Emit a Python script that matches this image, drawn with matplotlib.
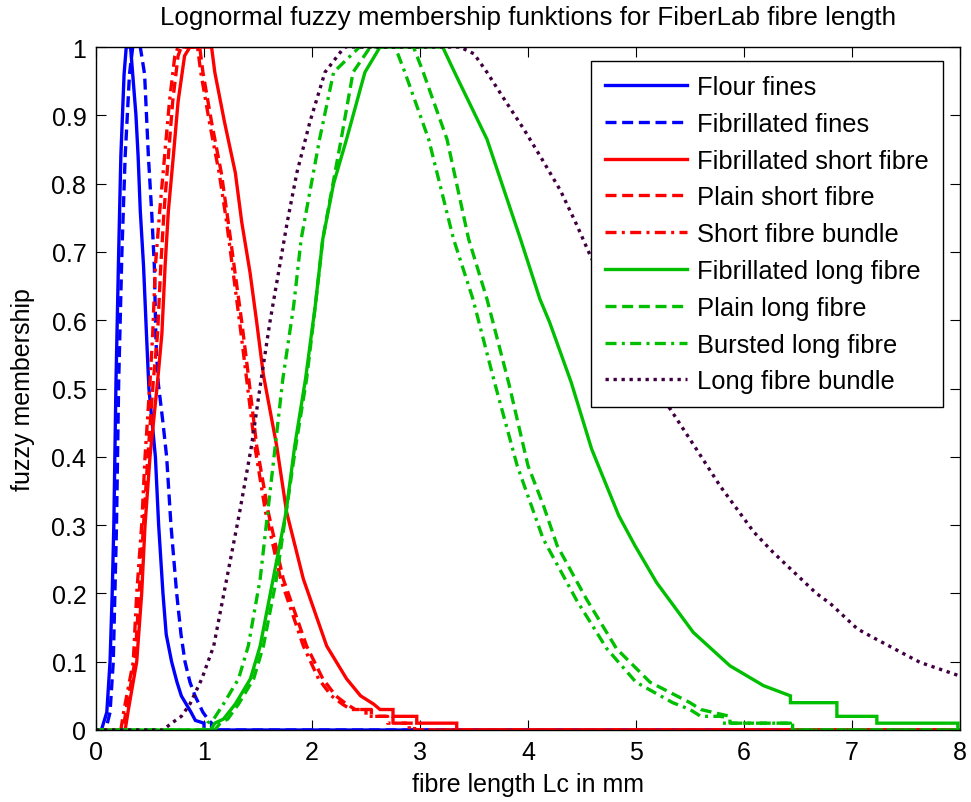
import matplotlib
matplotlib.use("Agg")
import matplotlib.pyplot as plt

plt.rcParams['font.family'] = ['Liberation Sans', 'DejaVu Sans']

# ---------------- data ----------------
flour_x = [0, 0.05, 0.10, 0.13, 0.15, 0.165, 0.185, 0.21, 0.23, 0.26, 0.28, 0.32, 0.34, 0.37, 0.39,
           0.41, 0.44, 0.47, 0.49, 0.52, 0.55, 0.58, 0.62, 0.65, 0.70, 0.75, 0.79, 0.88, 0.92, 1.0, 1.0, 8.0]
flour_y = [0, 0, 0.026, 0.10, 0.20, 0.30, 0.51, 0.70, 0.84, 0.96, 1.0, 1.0, 0.96, 0.90, 0.84,
           0.76, 0.68, 0.57, 0.50, 0.45, 0.40, 0.30, 0.20, 0.14, 0.10, 0.07, 0.05, 0.026, 0.014, 0.01, 0, 0]

fibfines_x = [0, 0.09, 0.13, 0.16, 0.19, 0.21, 0.24, 0.27, 0.31, 0.34, 0.41, 0.45, 0.485, 0.515, 0.54,
              0.555, 0.575, 0.62, 0.654, 0.694, 0.747, 0.787, 0.824, 0.87, 0.917, 0.99, 1.04, 1.07, 1.07, 8.0]
fibfines_y = [0, 0, 0.026, 0.10, 0.30, 0.51, 0.70, 0.84, 0.96, 1.0, 1.0, 0.96, 0.84, 0.76, 0.68,
              0.57, 0.51, 0.45, 0.40, 0.30, 0.20, 0.14, 0.10, 0.07, 0.05, 0.026, 0.015, 0.01, 0, 0]

fibshort_x = [0, 0.27, 0.30, 0.377, 0.423, 0.454, 0.50, 0.57, 0.61, 0.64, 0.67, 0.716, 0.76, 0.82, 0.87,
              1.07, 1.10, 1.19, 1.29, 1.35, 1.426, 1.488, 1.55, 1.673, 1.765, 1.92, 2.136, 2.32, 2.45,
              2.57, 2.63, 2.75, 2.75, 2.97, 2.97, 3.34, 3.34, 8.0]
fibshort_y = [0, 0, 0.03, 0.10, 0.20, 0.30, 0.40, 0.51, 0.58, 0.68, 0.76, 0.84, 0.92, 0.987, 1.0,
              1.0, 0.963, 0.89, 0.816, 0.743, 0.67, 0.597, 0.52, 0.416, 0.319, 0.221, 0.123, 0.075, 0.05,
              0.038, 0.03, 0.03, 0.02, 0.02, 0.01, 0.01, 0, 0]

plainshort_x = [0, 0.25, 0.28, 0.36, 0.40, 0.44, 0.48, 0.53, 0.57, 0.60, 0.63, 0.67, 0.71, 0.76, 0.79,
                0.96, 0.99, 1.07, 1.16, 1.225, 1.287, 1.35, 1.41, 1.488, 1.595, 1.734, 1.95, 2.10, 2.22,
                2.32, 2.40, 2.55, 2.55, 2.75, 2.75, 2.95, 2.95, 8.0]
plainshort_y = [0, 0, 0.03, 0.10, 0.20, 0.30, 0.40, 0.51, 0.58, 0.68, 0.76, 0.84, 0.92, 0.987, 1.0,
                1.0, 0.963, 0.89, 0.816, 0.743, 0.67, 0.597, 0.52, 0.416, 0.319, 0.221, 0.123, 0.075, 0.05,
                0.038, 0.03, 0.03, 0.02, 0.02, 0.01, 0.01, 0, 0]

shortbundle_x = [0, 0.23, 0.26, 0.345, 0.377, 0.423, 0.454, 0.50, 0.525, 0.55, 0.59, 0.635, 0.68, 0.73, 0.76,
                 0.94, 0.97, 1.05, 1.14, 1.21, 1.27, 1.33, 1.39, 1.47, 1.57, 1.71, 1.92, 2.06, 2.18,
                 2.28, 2.36, 2.50, 2.50, 2.70, 2.70, 2.90, 2.90, 8.0]
shortbundle_y = [0, 0, 0.03, 0.10, 0.20, 0.30, 0.40, 0.51, 0.58, 0.68, 0.76, 0.84, 0.92, 0.987, 1.0,
                 1.0, 0.963, 0.89, 0.816, 0.743, 0.67, 0.597, 0.52, 0.416, 0.319, 0.221, 0.123, 0.075, 0.05,
                 0.038, 0.03, 0.03, 0.02, 0.02, 0.01, 0.01, 0, 0]

fiblong_x = [0, 1.06, 1.10, 1.18, 1.29, 1.43, 1.52, 1.64, 1.76, 1.84, 1.94, 2.03, 2.10, 2.20, 2.32, 2.49, 2.63,
             3.21, 3.32, 3.62, 3.93, 4.11, 4.20, 4.40, 4.59, 4.84, 4.99, 5.19, 5.53, 5.87, 6.18, 6.43, 6.43,
             6.86, 6.86, 7.23, 7.23, 7.98, 7.98]
fiblong_y = [0, 0, 0.01, 0.016, 0.038, 0.075, 0.123, 0.221, 0.319, 0.416, 0.514, 0.621, 0.719, 0.80, 0.865, 0.963, 1.0,
             1.0, 0.963, 0.865, 0.719, 0.631, 0.597, 0.509, 0.411, 0.314, 0.27, 0.216, 0.143, 0.094, 0.065, 0.05, 0.04,
             0.04, 0.02, 0.02, 0.01, 0.01, 0]

plainlong_x = [0, 1.10, 1.15, 1.22, 1.32, 1.46, 1.55, 1.67, 1.76, 1.85, 1.95, 2.03, 2.10, 2.27, 2.38, 2.54,
               2.94, 3.03, 3.25, 3.45, 3.62, 3.82, 4.00, 4.14, 4.27, 4.54, 4.82, 5.13, 5.50, 5.60, 5.87, 5.87,
               6.45, 6.45, 8.0]
plainlong_y = [0, 0, 0.01, 0.016, 0.038, 0.075, 0.123, 0.221, 0.319, 0.416, 0.514, 0.62, 0.719, 0.865, 0.963, 1.0,
               1.0, 0.963, 0.865, 0.719, 0.631, 0.509, 0.387, 0.33, 0.27, 0.192, 0.119, 0.07, 0.04, 0.03, 0.02, 0.01,
               0.01, 0, 0]

burstlong_x = [0, 0.99, 1.03, 1.09, 1.18, 1.32, 1.41, 1.52, 1.59, 1.66, 1.73, 1.83, 1.90, 2.07, 2.20, 2.44,
               2.77, 2.86, 3.08, 3.31, 3.49, 3.69, 3.90, 4.14, 4.45, 4.73, 5.00, 5.34, 5.50, 5.60, 5.80, 5.80,
               6.43, 6.43, 8.0]
burstlong_y = [0, 0, 0.01, 0.016, 0.038, 0.075, 0.123, 0.221, 0.319, 0.416, 0.514, 0.621, 0.719, 0.865, 0.963, 1.0,
               1.0, 0.963, 0.865, 0.719, 0.631, 0.509, 0.387, 0.28, 0.19, 0.119, 0.07, 0.04, 0.03, 0.02, 0.02, 0.01,
               0.01, 0, 0]

longbundle_x = [0, 0.62, 0.70, 0.79, 0.87, 0.98, 1.09, 1.21, 1.33, 1.44, 1.53, 1.61, 1.69, 1.77, 1.86, 1.98, 2.12, 2.30,
                3.37, 3.50, 3.62, 3.77, 3.96, 4.11, 4.30, 4.45, 4.57, 4.80, 5.05, 5.30, 5.42, 5.56, 5.78, 6.09,
                6.27, 6.67, 6.80, 7.05, 7.20, 7.57, 7.63, 8.0]
longbundle_y = [0, 0, 0.01, 0.02, 0.038, 0.075, 0.123, 0.221, 0.319, 0.416, 0.514, 0.597, 0.67, 0.743, 0.816, 0.89, 0.963, 1.0,
                1.0, 0.99, 0.963, 0.926, 0.88, 0.841, 0.79, 0.74, 0.697, 0.62, 0.545, 0.474, 0.445, 0.411, 0.357, 0.29,
                0.26, 0.20, 0.185, 0.148, 0.135, 0.104, 0.099, 0.079]

labels = ["Flour fines", "Fibrillated fines", "Fibrillated short fibre", "Plain short fibre",
          "Short fibre bundle", "Fibrillated long fibre", "Plain long fibre", "Bursted long fibre",
          "Long fibre bundle"]

x_ticks = [0, 1, 2, 3, 4, 5, 6, 7, 8]
y_ticks = [0, 0.1, 0.2, 0.3, 0.4, 0.5, 0.6, 0.7, 0.8, 0.9, 1.0]
y_tick_labels = ["0", "0.1", "0.2", "0.3", "0.4", "0.5", "0.6", "0.7", "0.8", "0.9", "1"]

# ---------------- styling ----------------
BLUE = '#0000ff'
RED = '#ff0000'
GREEN = '#00bf00'
PURPLE = '#400040'
SOLID = '-'
DASH = (0, (3.3, 1.7))
DASHDOT = (0, (3.3, 1.6, 0.9, 1.6))
DOT = (0, (1, 1.4))
LW = 2.4

series = [
    (flour_x, flour_y, BLUE, SOLID),
    (fibfines_x, fibfines_y, BLUE, DASH),
    (fibshort_x, fibshort_y, RED, SOLID),
    (plainshort_x, plainshort_y, RED, DASH),
    (shortbundle_x, shortbundle_y, RED, DASHDOT),
    (fiblong_x, fiblong_y, GREEN, SOLID),
    (plainlong_x, plainlong_y, GREEN, DASH),
    (burstlong_x, burstlong_y, GREEN, DASHDOT),
    (longbundle_x, longbundle_y, PURPLE, DOT),
]

FS = 18.4
fig = plt.figure(figsize=(9.71, 8.03), dpi=100)
W, H = 971, 803
ax = fig.add_axes([96 / W, (H - 731) / H, (960 - 96) / W, (731 - 48) / H])

for (xs, ys, c, ls), lab in zip(series, labels):
    ax.plot(xs, ys, color=c, linestyle=ls, linewidth=LW, label=lab,
            dash_capstyle='butt', solid_joinstyle='miter')

ax.set_xlim(0, 8)
ax.set_ylim(0, 1)
ax.set_xticks(x_ticks)
ax.set_xticklabels([str(t) for t in x_ticks])
ax.set_yticks(y_ticks)
ax.set_yticklabels(y_tick_labels)
ax.tick_params(direction='in', length=7, width=0.8, top=True, right=True,
               labelsize=18, pad=7)
for sp in ax.spines.values():
    sp.set_linewidth(1.0)

ax.set_xlabel("fibre length Lc in mm", fontsize=18, labelpad=6)
ax.set_ylabel("fuzzy membership", fontsize=18, labelpad=12)
fig.text(528 / W, 1 - 18 / H, "Lognormal fuzzy membership funktions for FiberLab fibre length",
         ha='center', va='center', fontsize=18.7)

leg = ax.legend(loc='upper right', bbox_to_anchor=((943 - 96) / 864, (731 - 62) / 683),
                borderaxespad=0, fontsize=FS, handlelength=3.2, handletextpad=0.4,
                labelspacing=0.5, borderpad=0.55, fancybox=False, framealpha=1,
                edgecolor='black')
leg.get_frame().set_linewidth(1.0)

fig.savefig("out.png", dpi=100)
